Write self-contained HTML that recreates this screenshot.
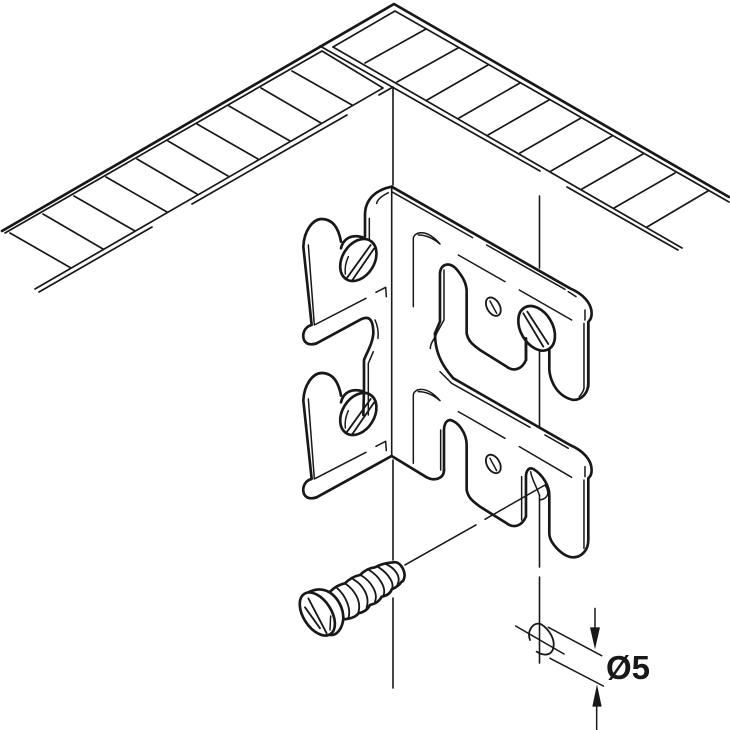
<!DOCTYPE html>
<html><head><meta charset="utf-8"><style>
html,body{margin:0;padding:0;background:#fff;width:730px;height:730px;overflow:hidden}
svg{display:block}
.k{fill:none;stroke:#1a1718;stroke-linecap:round;stroke-linejoin:round}
.t{stroke-width:4.5}
.m{stroke-width:5.5}
.b{stroke-width:8}
</style></head><body>
<svg width="730" height="730" viewBox="0 0 730 730" xmlns="http://www.w3.org/2000/svg">
<rect width="730" height="730" fill="#fff"/>

<!-- top panels -->
<g class="k">
<path stroke-width="2.7" d="M2 231L394 4L729 197"/>
<path stroke-width="1.7" d="M5 233L322 51L383 88L35 289M333 47L395 11L729 202"/>
<path stroke-width="1.7" d="M333 47L682 248M320 46L540 171M567 187L678 250"/>
<path stroke-width="1.7" d="M379 95L393 87"/>
<path stroke-width="1.7" d="M347 115L192 204M152 227L39 292"/>
<path stroke-width="1.7" d="M10 233L71 268M43 214L103 249M74 196L135 231M106 177L167 212M137 159L197 194M168 141L228 176M197 124L258 159M229 106L290 141M261 88L321 123M292 71L352 105"/>
<path stroke-width="1.7" d="M426 29L365 63M458 48L397 82M488 65L427 100M520 83L459 118M549 100L488 135M581 118L520 153M612 136L551 171M643 154L582 189M675 173L614 208M708 191L647 227"/>
<path stroke-width="1.6" d="M393 88V185M391.7 187V456M393 460V560M393 598V688"/>
<path stroke-width="1.6" d="M539.5 196V268M539.5 352V427M539.5 495V567M539.5 577V663"/>
</g>

<!-- left flange, upper -->
<g transform="translate(280 170) scale(.3333)">
<g id="lf" class="k">
<path class="b" d="M183 215C175 170 155 147 125 147C100 147 72 180 70 230L95 465C75 470 65 490 72 510C80 525 95 525 110 520"/>
<path class="t" d="M85 225L103 465L258 385M288 367L317 352L319 380"/>
<ellipse class="b" cx="235" cy="270" rx="48" ry="68" transform="rotate(32 235 270)" fill="#fff"/>
<path class="b" d="M183 235C190 205 215 192 248 202"/>
<path class="m" d="M272 225L200 325M282 236L216 332"/>
<path class="t" d="M205 260C198 275 194 295 196 312"/>
</g>
<use href="#lf" transform="translate(0 462)"/>
<g class="k">
<path class="b" d="M110 520L245 447C265 438 280 445 280 490"/>
<path class="t" d="M285 450C292 465 296 485 294 505"/>
<path class="b" d="M335 50C285 60 255 90 255 135V200"/>
<path class="t" d="M325 68C305 78 292 88 290 100M268 145V205"/>
<path class="b" d="M280 490C278 520 262 545 252 570V660L250 735"/>
<path class="t" d="M280 545L265 580V735"/>
<path class="b" d="M110 982L335 858L440 922C465 935 492 925 492 900"/>
</g>
</g>

<!-- right flange -->
<g transform="translate(280 170) scale(.3333)" class="k">
<path class="b" d="M335 50L870 355C910 372 935 400 935 430C935 445 930 450 925 456V650"/>
<path class="t" d="M335 65L578 203M620 225L855 358M865 365L888 380"/>
<path class="t" d="M400 410V205C402 185 440 175 480 222M415 195C440 195 460 205 480 222M535 255L675 335M718 360L875 450M915 420V450M912 460V655"/>
<path class="b" d="M465 490L480 455V310C482 280 510 275 530 298C548 320 560 340 560 365V490C565 515 580 525 600 540L680 590C700 605 725 600 738 570V505"/>
<path class="t" d="M492 300V450L470 490C467 505 451 515 451 535"/>
<path class="b" d="M465 490C465 540 480 580 520 625L870 825C910 842 935 870 935 900C935 915 930 920 925 925V1110C925 1140 905 1162 880 1162C850 1162 808 1120 808 1090V975C808 950 790 915 760 897C745 890 738 905 738 920V1040C725 1070 700 1075 680 1060L600 1010C580 995 565 985 560 960V825C560 790 535 755 510 750C495 752 492 770 492 780V900"/>
<path class="t" d="M480 605L515 640L750 772M795 795L865 835M482 780V900M400 880V675C402 655 440 645 480 692M415 665C440 665 460 675 480 692M535 725L675 805M718 830L875 922M915 890V920M912 930V1135M725 920V1050M752 905C754 925 770 950 778 975"/>
<ellipse class="b" cx="770" cy="475" rx="48" ry="72" transform="rotate(-30 770 475)" fill="#fff"/>
<path class="m" d="M730 430L790 530M742 425L805 522"/>
<path class="b" d="M738 505V570"/>
<path class="b" d="M808 540V600C812 640 835 680 880 690C905 690 925 670 925 640V460"/>
<path class="t" d="M912 655C910 665 905 672 898 680"/>
<ellipse class="m" cx="640" cy="410" rx="19" ry="30" transform="rotate(-30 640 410)"/>
<path class="t" d="M630 393L650 430"/>
<ellipse class="m" cx="640" cy="882" rx="19" ry="30" transform="rotate(-30 640 882)"/>
<path class="t" d="M630 865L650 902"/>
<path class="t" d="M375 1185L588 1065M615 1048L795 945"/>
<path class="t" d="M795 945C808 965 808 985 780 990"/>
</g>

<!-- wood screw -->
<g transform="translate(280 550) scale(.3333)" class="k" fill="#fff">
<path class="b" fill="#fff" d="M150 125Q170 105 195 100Q215 80 240 75Q260 55 285 52Q305 40 340 37C358 33 372 55 374 75Q372 95 365 95Q355 110 335 118Q330 135 305 140Q295 160 270 165Q260 185 235 190Q225 205 190 208Z"/>
<path class="m" d="M172 115C195 135 215 175 205 205M195 100C225 120 245 155 235 188M220 88C250 105 270 140 260 172M242 75C275 95 295 130 285 155M267 60C300 80 320 115 310 138M293 50C325 70 345 100 335 118M318 42C345 55 365 80 352 105"/>
<path class="b" fill="#fff" d="M80 130C105 115 130 115 150 128C175 145 190 175 190 205C188 235 170 258 150 255"/>
<ellipse class="b" cx="112" cy="192" rx="42" ry="72" transform="rotate(-33 112 192)" fill="#fff"/>
<path class="m" d="M85 145L140 250M75 172L120 235"/>
<path class="t" d="M152 198L150 240"/>
</g>

<!-- dimension -->
<g transform="translate(500 590) scale(.3333)" class="k">
<path class="t" d="M47 108L192 192M145 112L305 197M150 205L310 288"/>
<path class="m" d="M90 150C80 122 100 95 122 102C145 115 170 150 158 180C150 197 130 198 110 185"/>
<path class="t" d="M285 55V120M290 420V350"/>
<path d="M270 112L300 112L285 178Z" fill="#1a1718" stroke="none"/>
<path d="M277 350L305 350L291 283Z" fill="#1a1718" stroke="none"/>
</g>
<text x="606" y="679" font-family="'Liberation Sans',sans-serif" font-weight="700" font-size="33" fill="#1a1718">Ø5</text>
</svg>
</body></html>
